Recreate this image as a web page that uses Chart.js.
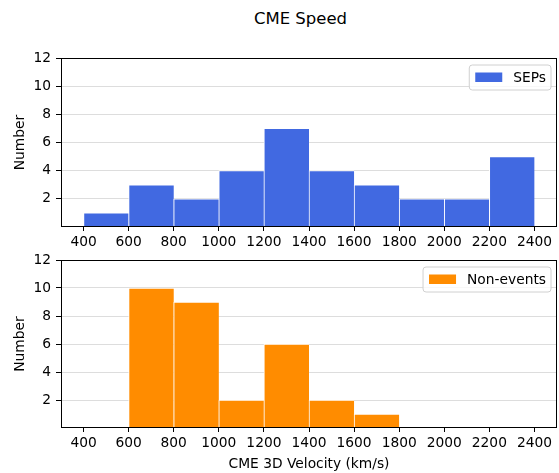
<!DOCTYPE html>
<html><head><meta charset="utf-8">
<script src="https://cdn.jsdelivr.net/npm/chart.js@4"></script>
<style>
html,body{margin:0;padding:0;background:#fff;}
#wrap{position:relative;width:559px;height:473px;overflow:hidden;font-family:"DejaVu Sans";background:#fff;}
#title{position:absolute;left:0;top:11px;width:601px;text-align:center;font-size:16.5px;line-height:16px;color:#000;}
.c{position:absolute;left:0;width:559px;}
canvas{display:block;}
</style></head><body>
<div id="wrap">
<div id="title">CME Speed</div>
<div class="c" style="top:0;height:262px"><canvas id="c1" width="559" height="262"></canvas></div>
<div class="c" style="top:245px;height:228px"><canvas id="c2" width="559" height="228"></canvas></div>
</div>
<script>
// ---- data ----
const binEdges = [400, 600, 800, 1000, 1200, 1400, 1600, 1800, 2000, 2200, 2400];
const sepCounts = [1, 3, 2, 4, 7, 4, 3, 2, 2, 5];
const nonEventCounts = [0, 10, 9, 2, 6, 2, 1, 0, 0, 0];
const xTicks = [400, 600, 800, 1000, 1200, 1400, 1600, 1800, 2000, 2200, 2400];
const yTicks = [2, 4, 6, 8, 10, 12];
const seriesLabels = ['SEPs', 'Non-events'];
const yTitle = 'Number';
const xTitle = 'CME 3D Velocity (km/s)';

Chart.defaults.font.family = 'DejaVu Sans';
Chart.defaults.color = '#000';

const FS = 13.8;
const FONT = {family: 'DejaVu Sans', size: FS};

const framePlugin = {
  id: 'frame',
  afterDatasetsDraw(chart) {
    const {ctx, chartArea: a} = chart;
    ctx.save();
    ctx.strokeStyle = '#000';
    ctx.lineWidth = 1;
    ctx.strokeRect(a.left + 0.5, a.top + 0.5, a.right - a.left - 1, a.bottom - a.top - 1);
    ctx.restore();
  },
  afterDraw(chart) {
    const {ctx, chartArea: a} = chart;
    const ds = chart.data.datasets[0];
    ctx.save();
    ctx.font = FS + 'px "DejaVu Sans"';
    const tw = ctx.measureText(ds.label).width;
    const w = 6 + 27 + 11 + tw + 5;
    const h = 25;
    const x = a.right - 6 - w;
    const y = a.top + 7;
    const r = 3;
    ctx.beginPath();
    ctx.moveTo(x + r, y);
    ctx.arcTo(x + w, y, x + w, y + h, r);
    ctx.arcTo(x + w, y + h, x, y + h, r);
    ctx.arcTo(x, y + h, x, y, r);
    ctx.arcTo(x, y, x + w, y, r);
    ctx.closePath();
    ctx.fillStyle = 'rgba(255,255,255,0.8)';
    ctx.fill();
    ctx.strokeStyle = '#d0d0d0';
    ctx.lineWidth = 1;
    ctx.stroke();
    ctx.fillStyle = ds.backgroundColor;
    ctx.fillRect(x + 6, y + 7.5, 27, 9.5);
    ctx.fillStyle = '#000';
    ctx.textBaseline = 'middle';
    ctx.textAlign = 'left';
    ctx.fillText(ds.label, x + 44, y + h / 2 + 0.5);
    ctx.restore();
  }
};

function makeChart(id, label, color, counts, padTop, xH, showXTitle) {
  const data = counts.map((c, i) => ({x: (binEdges[i] + binEdges[i + 1]) / 2, y: c === 0 ? null : c}));
  return new Chart(document.getElementById(id), {
    type: 'bar',
    data: {datasets: [{
      label, data,
      backgroundColor: color,
      borderColor: '#ffffff',
      borderWidth: {left: 1, top: 1, right: 0, bottom: 0},
      barPercentage: 1, categoryPercentage: 1
    }]},
    options: {
      responsive: false,
      animation: false,
      devicePixelRatio: 1,
      layout: {padding: {top: padTop, right: 2, left: 0, bottom: 0}},
      plugins: {legend: {display: false}, tooltip: {enabled: false}},
      scales: {
        x: {
          type: 'linear', min: 300, max: 2500, offset: false,
          afterBuildTicks: s => { s.ticks = xTicks.map(v => ({value: v})); },
          afterFit: s => { s.height = xH; },
          grid: {display: true, drawOnChartArea: false, drawTicks: true, tickLength: 4, tickColor: '#000', offset: false},
          border: {display: false},
          ticks: {padding: 2.7, color: '#000', font: FONT, maxRotation: 0, autoSkip: false, callback: v => String(v)},
          title: {display: showXTitle, text: xTitle, color: '#000', font: FONT, padding: {top: 2.7, bottom: 0}}
        },
        y: {
          min: 0, max: 12,
          afterBuildTicks: s => { s.ticks = yTicks.map(v => ({value: v})); },
          afterFit: s => { s.width = 61; },
          grid: {color: '#dddddd', tickColor: '#000', tickLength: 5, lineWidth: 1},
          border: {display: false},
          ticks: {padding: 5, color: '#000', font: FONT, callback: v => String(v)},
          title: {display: true, text: yTitle, color: '#000', font: FONT, padding: {top: 12.5, bottom: 0}}
        }
      }
    },
    plugins: [framePlugin]
  });
}

makeChart('c1', seriesLabels[0], '#4169E1', sepCounts, 58, 35, false);
makeChart('c2', seriesLabels[1], '#FF8C00', nonEventCounts, 15, 45, true);
</script>
</body></html>
